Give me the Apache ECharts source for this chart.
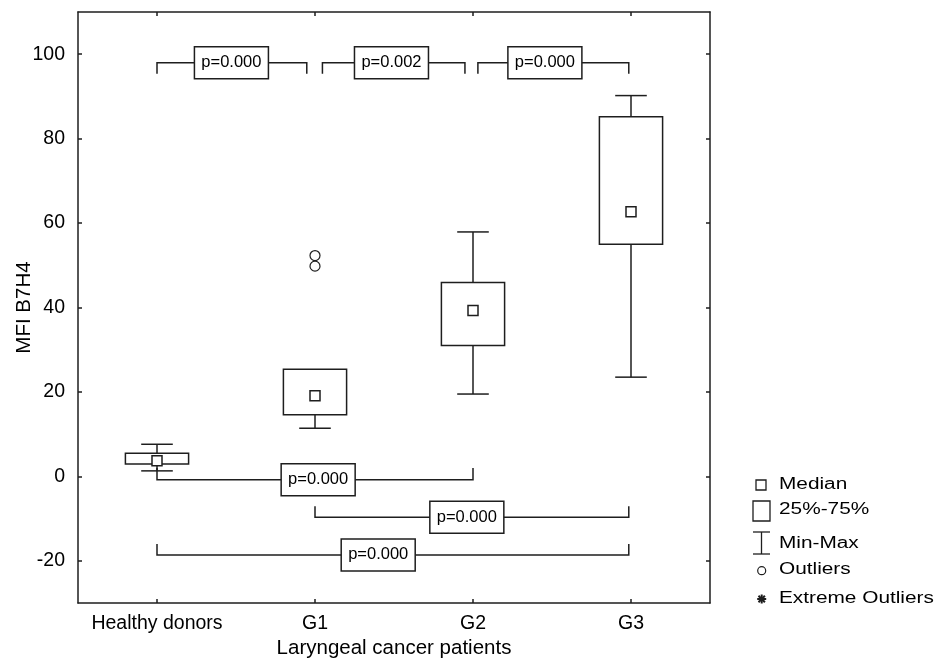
<!DOCTYPE html>
<html><head><meta charset="utf-8">
<script src="https://cdn.jsdelivr.net/npm/echarts@6/dist/echarts.min.js"></script>
<style>html,body{margin:0;padding:0;background:#fff}#c{width:936px;height:672px}</style>
</head><body><div id="c"></div>
<script>
const categories = ['Healthy donors', 'G1', 'G2', 'G3'];
const minValues = [1.3, 11.4, 19.5, 23.5];
const q1Values = [2.9, 14.6, 31.0, 55.0];
const medianValues = [3.7, 19.1, 39.3, 62.7];
const q3Values = [5.5, 25.4, 45.9, 85.2];
const maxValues = [7.6, 25.4, 57.9, 90.2];
const outlierCats = [1, 1];
const outlierValues = [52.3, 49.8];
const yTicks = [-20, 0, 20, 40, 60, 80, 100];
const yMin = -30, yMax = 110;
// significance brackets, in category positions
const bracketStart = [0, 1.047, 2.031, 0, 1, 0];
const bracketEnd = [0.948, 1.949, 2.986, 2, 2.986, 2.986];
const bracketY = [98.0, 98.0, 98.0, -0.8, -9.7, -18.6];
const bracketLegY = [95.4, 95.4, 95.4, 2.0, -7.1, -16.0];
const bracketLabelX = [0.471, 1.484, 2.455, 1.02, 1.961, 1.40];
const pLabels = ['p=0.000', 'p=0.002', 'p=0.000', 'p=0.000', 'p=0.000', 'p=0.000'];
const legendItems = ['Median', '25%-75%', 'Min-Max', 'Outliers', 'Extreme Outliers'];

const LINE = '#1e1e1e';
const FONT = '"Liberation Sans", Arial, sans-serif';

function coordAt(api, pos, y) {
  const a = api.coord([0, y]);
  const b = api.coord([1, y]);
  return [a[0] + (b[0] - a[0]) * pos, a[1]];
}

const chart = echarts.init(document.getElementById('c'), null, {renderer: 'canvas'});

const axisLineStyle = {show: true, onZero: false, lineStyle: {color: LINE, width: 1.5}};

const option = {
  backgroundColor: '#fff',
  animation: false,
  grid: {left: 78, right: 226, top: 12, bottom: 69, containLabel: false, outerBoundsMode: 'none'},
  xAxis: [
    {
      type: 'category', data: categories, position: 'bottom', boundaryGap: true,
      axisLine: axisLineStyle, splitLine: {show: false},
      axisTick: {show: true, inside: true, alignWithLabel: true, interval: 0, length: 4, lineStyle: {color: LINE, width: 1.5}},
      axisLabel: {show: true, interval: 0, margin: 11, color: '#000', fontSize: 19.5, fontFamily: FONT},
      name: 'Laryngeal cancer patients', nameLocation: 'middle', nameGap: 35, nameMoveOverlap: false,
      nameTextStyle: {color: '#000', fontSize: 20.5, fontFamily: FONT}
    },
    {
      type: 'category', data: categories, position: 'top', boundaryGap: true,
      axisLine: axisLineStyle, splitLine: {show: false},
      axisTick: {show: true, inside: true, alignWithLabel: true, interval: 0, length: 4, lineStyle: {color: LINE, width: 1.5}},
      axisLabel: {show: false}
    }
  ],
  yAxis: [
    {
      type: 'value', position: 'left', min: yMin, max: yMax,
      axisLine: axisLineStyle, splitLine: {show: false},
      axisTick: {show: true, inside: true, length: 4, customValues: yTicks, lineStyle: {color: LINE, width: 1.5}},
      axisLabel: {show: true, margin: 13, color: '#000', fontSize: 19.5, fontFamily: FONT, customValues: yTicks},
      name: 'MFI B7H4', nameLocation: 'middle', nameGap: 43, nameRotate: 90, nameMoveOverlap: false,
      nameTextStyle: {color: '#000', fontSize: 20.5, fontFamily: FONT}
    },
    {
      type: 'value', position: 'right', min: yMin, max: yMax,
      axisLine: axisLineStyle, splitLine: {show: false},
      axisTick: {show: true, inside: true, length: 4, customValues: yTicks, lineStyle: {color: LINE, width: 1.5}},
      axisLabel: {show: false}
    }
  ],
  series: [
    {
      type: 'custom', name: 'box', z: 2, silent: true,
      xAxisIndex: 0, yAxisIndex: 0,
      encode: {x: 0, y: [1, 2, 3, 4, 5]},
      data: categories.map((c, i) => [i, minValues[i], q1Values[i], medianValues[i], q3Values[i], maxValues[i]]),
      renderItem: function (params, api) {
        const c = api.value(0);
        const pMin = api.coord([c, api.value(1)]);
        const pQ1 = api.coord([c, api.value(2)]);
        const pQ3 = api.coord([c, api.value(4)]);
        const pMax = api.coord([c, api.value(5)]);
        const band = api.size([1, 0])[0];
        const bw = band * 0.4, cw = band * 0.2;
        const x = pQ1[0];
        const ls = {stroke: LINE, lineWidth: 1.5, fill: null};
        const ch = [];
        if (pMax[1] < pQ3[1] - 0.5) {
          ch.push({type: 'line', shape: {x1: x, y1: pQ3[1], x2: x, y2: pMax[1]}, style: ls});
          ch.push({type: 'line', shape: {x1: x - cw / 2, y1: pMax[1], x2: x + cw / 2, y2: pMax[1]}, style: ls});
        }
        if (pMin[1] > pQ1[1] + 0.5) {
          ch.push({type: 'line', shape: {x1: x, y1: pQ1[1], x2: x, y2: pMin[1]}, style: ls});
          ch.push({type: 'line', shape: {x1: x - cw / 2, y1: pMin[1], x2: x + cw / 2, y2: pMin[1]}, style: ls});
        }
        ch.push({type: 'rect', shape: {x: x - bw / 2, y: pQ3[1], width: bw, height: pQ1[1] - pQ3[1]},
          style: {fill: '#fff', stroke: LINE, lineWidth: 1.5}});
        return {type: 'group', children: ch};
      }
    },
    {
      type: 'scatter', name: 'Median', z: 3, silent: true,
      data: medianValues.map((v, i) => [i, v]),
      symbol: 'rect', symbolSize: 10,
      itemStyle: {color: '#fff', borderColor: LINE, borderWidth: 1.5, opacity: 1}
    },
    {
      type: 'scatter', name: 'Outliers', z: 3, silent: true,
      data: outlierValues.map((v, i) => [outlierCats[i], v]),
      symbol: 'circle', symbolSize: 10,
      itemStyle: {color: '#fff', borderColor: LINE, borderWidth: 1.2, opacity: 1}
    },
    {
      type: 'custom', name: 'brackets', z: 4, silent: true,
      xAxisIndex: 0, yAxisIndex: 0,
      encode: {x: [0, 1, 4], y: [2, 3]},
      data: bracketStart.map((s, i) => [s, bracketEnd[i], bracketY[i], bracketLegY[i], bracketLabelX[i]]),
      renderItem: function (params, api) {
        const s = api.value(0), e = api.value(1), yl = api.value(2), yg = api.value(3), lx = api.value(4);
        const a = coordAt(api, s, yl), b = coordAt(api, e, yl);
        const ag = coordAt(api, s, yg), bg = coordAt(api, e, yg);
        const lc = coordAt(api, lx, yl);
        const w = 74, h = 32;
        return {
          type: 'group', children: [
            {type: 'polyline', shape: {points: [ag, a, b, bg]}, style: {stroke: LINE, lineWidth: 1.5, fill: null}},
            {type: 'rect', shape: {x: lc[0] - w / 2, y: lc[1] - h / 2, width: w, height: h},
              style: {fill: '#fff', stroke: LINE, lineWidth: 1.5}},
            {type: 'text', x: lc[0], y: lc[1], style: {text: pLabels[params.dataIndex], fill: '#000',
              font: '16.5px ' + FONT, align: 'center', verticalAlign: 'middle'}}
          ]
        };
      }
    }
  ],
  graphic: [
    {type: 'rect', shape: {x: 756, y: 480, width: 10, height: 10}, style: {fill: '#fff', stroke: LINE, lineWidth: 1.3}},
    {type: 'rect', shape: {x: 753, y: 501, width: 17, height: 20}, style: {fill: '#fff', stroke: LINE, lineWidth: 1.3}},
    {type: 'line', shape: {x1: 753, y1: 532, x2: 770, y2: 532}, style: {stroke: LINE, lineWidth: 1.3}},
    {type: 'line', shape: {x1: 761.5, y1: 532, x2: 761.5, y2: 554}, style: {stroke: LINE, lineWidth: 1.3}},
    {type: 'line', shape: {x1: 753, y1: 554, x2: 770, y2: 554}, style: {stroke: LINE, lineWidth: 1.3}},
    {type: 'circle', shape: {cx: 761.7, cy: 570.7, r: 4}, style: {fill: '#fff', stroke: LINE, lineWidth: 1.2}},
    {type: 'line', shape: {x1: 761.7, y1: 594.5, x2: 761.7, y2: 603.5}, style: {stroke: LINE, lineWidth: 2}},
    {type: 'line', shape: {x1: 757.2, y1: 599, x2: 766.2, y2: 599}, style: {stroke: LINE, lineWidth: 2}},
    {type: 'line', shape: {x1: 758.5, y1: 595.8, x2: 764.9, y2: 602.2}, style: {stroke: LINE, lineWidth: 2}},
    {type: 'line', shape: {x1: 758.5, y1: 602.2, x2: 764.9, y2: 595.8}, style: {stroke: LINE, lineWidth: 2}}
  ].concat(legendItems.map((t, i) => ({
    type: 'text', x: 779, y: [485, 510, 544, 570, 599][i], scaleX: 1.3,
    style: {text: t, fill: '#000', font: '16px ' + FONT, align: 'left', verticalAlign: 'middle'}
  })))
};

chart.setOption(option);
</script>
</body></html>
